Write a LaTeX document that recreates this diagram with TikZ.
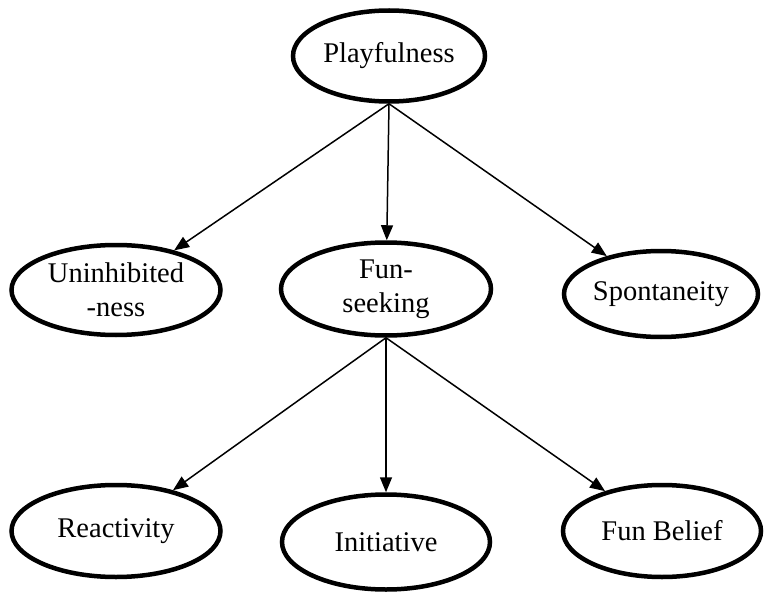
\documentclass[tikz,border=0pt]{standalone}
\usepackage{fontspec}
\setmainfont{Liberation Serif}
\usetikzlibrary{shapes.geometric,arrows.meta}
\tikzset{
  oval/.style={ellipse, draw, line width=4.5pt, inner sep=0pt, align=center,
    font=\fontsize{28.5}{34}\selectfont},
  link/.style={line width=1.5pt, -{Triangle[length=15pt,width=12pt]}}
}
\begin{document}
\begin{tikzpicture}[x=1pt, y=-1pt]
\useasboundingbox (0,0) rectangle (765,596);
% top level
\node[oval, minimum width=192pt, minimum height=91pt] (play) at (389,56) {Playfulness};
% second level
\node[oval, minimum width=209pt, minimum height=90pt] (uninh) at (116,290) {Uninhibited\\-ness};
\node[oval, minimum width=210pt, minimum height=93pt] (funseek) at (386,289) {Fun-\\seeking};
\node[oval, minimum width=194pt, minimum height=86pt] (spont) at (661,294) {Spontaneity};
% third level
\node[oval, minimum width=209pt, minimum height=92pt] (react) at (116,531) {Reactivity};
\node[oval, minimum width=208pt, minimum height=95pt] (init) at (386,542) {Initiative};
\node[oval, minimum width=198pt, minimum height=92pt] (belief) at (662,531) {Fun Belief};
\draw[link] (play.south) -- (uninh);
\draw[link] (play.south) -- (funseek);
\draw[link] (play.south) -- (spont);
\draw[link] (funseek.south) -- (react);
\draw[link] (funseek.south) -- (init);
\draw[link] (funseek.south) -- (belief);
\end{tikzpicture}
\end{document}
